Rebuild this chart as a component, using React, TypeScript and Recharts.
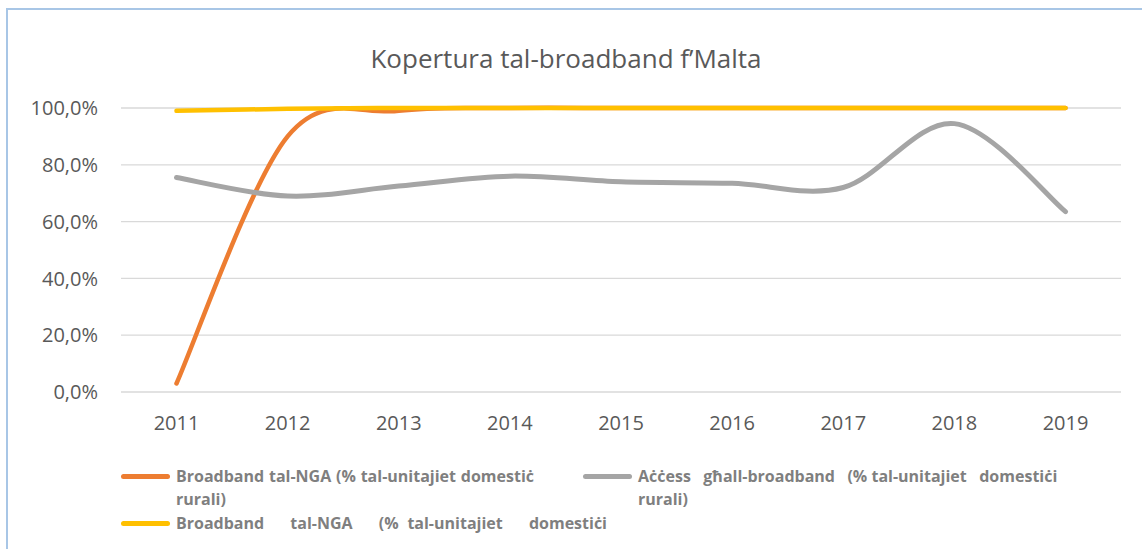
import React from 'react';
import { LineChart, Line, XAxis, YAxis, CartesianGrid, Legend } from 'recharts';

const years = ['2011', '2012', '2013', '2014', '2015', '2016', '2017', '2018', '2019'];
const ngaRural = [0.03, 0.9, 0.99, 1.0, 1.0, 1.0, 1.0, 1.0, 1.0];
const accessRural = [0.755, 0.69, 0.725, 0.76, 0.74, 0.735, 0.72, 0.945, 0.635];
const ngaNational = [0.99, 0.997, 1.0, 1.0, 1.0, 1.0, 1.0, 1.0, 1.0];
const yTicks = [0, 0.2, 0.4, 0.6, 0.8, 1.0];

const seriesKeys = ['a', 'b', 'c'];
const seriesNames = [
  'Broadband tal-NGA (% tal-unitajiet domestiċ rurali)',
  'Aċċess għall-broadband (% tal-unitajiet domestiċi rurali)',
  'Broadband tal-NGA (% tal-unitajiet domestiċi',
];
const seriesColors = ['#ED7D31', '#A5A5A5', '#FFC000'];
const legendLines = [
  ['Broadband tal-NGA (% tal-unitajiet domestiċ', 'rurali)'],
  ['Aċċess   għall-broadband   (% tal-unitajiet   domestiċi', 'rurali)'],
  ['Broadband   tal-NGA   (% tal-unitajiet   domestiċi'],
];

const data = years.map((y, i) => ({
  year: y,
  a: ngaRural[i],
  b: accessRural[i],
  c: ngaNational[i],
}));

// Excel-like smoothed line (uniform Catmull-Rom through the points)
function excelSmooth(context: any) {
  let pts: number[][] = [];
  return {
    areaStart() {},
    areaEnd() {},
    lineStart() {
      pts = [];
    },
    lineEnd() {
      if (!pts.length) return;
      context.moveTo(pts[0][0], pts[0][1]);
      for (let i = 0; i < pts.length - 1; i++) {
        const p0 = pts[i - 1] || pts[i];
        const p1 = pts[i];
        const p2 = pts[i + 1];
        const p3 = pts[i + 2] || pts[i + 1];
        context.bezierCurveTo(
          p1[0] + (p2[0] - p0[0]) / 6,
          p1[1] + (p2[1] - p0[1]) / 6,
          p2[0] - (p3[0] - p1[0]) / 6,
          p2[1] - (p3[1] - p1[1]) / 6,
          p2[0],
          p2[1]
        );
      }
    },
    point(x: number, y: number) {
      pts.push([x, y]);
    },
  };
}

const fmt = (v: number) => (v * 100).toFixed(1).replace('.', ',') + '%';

const legendLayout = [
  { x: 121, y: 0, w: 358 },
  { x: 583, y: 0, w: 416 },
  { x: 121, y: 47, w: 431 },
];

const renderLegend = (props: any) => {
  const payload = props.payload || [];
  return (
    <div style={{ position: 'relative', width: 1142, height: 90 }}>
      {seriesKeys.map((k, i) => {
        const p = payload.find((q: any) => q.dataKey === k) || { color: seriesColors[i] };
        const L = legendLayout[i];
        const lines = legendLines[i];
        return (
          <div key={k} style={{ position: 'absolute', left: L.x, top: L.y }}>
            <div
              style={{
                position: 'absolute',
                left: 0,
                top: 9,
                width: 49,
                height: 5,
                borderRadius: 3,
                background: p.color,
              }}
            />
            {lines.map((t, j) => (
              <div
                key={j}
                style={{
                  position: 'absolute',
                  left: 55,
                  top: j * 23,
                  width: j === 0 ? L.w : 'auto',
                  whiteSpace: 'pre',
                  textAlign: 'justify',
                  textAlignLast: j === 0 ? 'justify' : 'left',
                  fontFamily: '"Open Sans", sans-serif',
                  fontWeight: 700,
                  fontSize: 16,
                  lineHeight: '23px',
                  color: '#7f7f7f',
                } as any}
              >
                {t}
              </div>
            ))}
          </div>
        );
      })}
    </div>
  );
};

export default function App() {
  return (
    <div style={{ position: 'absolute', left: 0, top: 0, width: 1142, height: 549, overflow: 'hidden', background: '#fff' }}>
      <div
        style={{
          position: 'absolute',
          left: 6,
          top: 8,
          width: 1200,
          height: 600,
          borderLeft: '2px solid #a8c6e6',
          borderTop: '2px solid #a8c6e6',
        }}
      />
      <div
        style={{
          position: 'absolute',
          left: 0,
          width: 1132,
          top: 40,
          textAlign: 'center',
          fontFamily: '"Open Sans", sans-serif',
          fontSize: 26,
          color: '#595959',
        }}
      >
        Kopertura tal-broadband f’Malta
      </div>
      <div style={{ position: 'absolute', left: 0, top: 0 }}>
        <LineChart width={1142} height={549} data={data} margin={{ top: 108, right: 21, bottom: 127, left: 0 }}>
          <CartesianGrid vertical={false} stroke="#d9d9d9" strokeWidth={1.3} />
          <XAxis
            dataKey="year"
            height={30}
            padding={{ left: 55.5, right: 55.5 }}
            axisLine={false}
            tickLine={false}
            tickSize={0}
            tickMargin={24}
            tick={{ fill: '#595959', fontSize: 20, fontFamily: '"Open Sans", sans-serif' }}
          />
          <YAxis
            width={121}
            domain={[0, 1]}
            ticks={yTicks}
            tickFormatter={fmt}
            axisLine={false}
            tickLine={false}
            tickSize={0}
            tickMargin={23}
            tick={{ fill: '#595959', fontSize: 20, fontFamily: '"Open Sans", sans-serif' }}
          />
          <Legend
            layout="horizontal"
            verticalAlign="middle"
            align="center"
            wrapperStyle={{ top: 465, left: 0, width: 1142 }}
            content={renderLegend}
          />
          <Line
            dataKey="a"
            name={seriesNames[0]}
            type={excelSmooth as any}
            stroke={seriesColors[0]}
            strokeWidth={4.5}
            strokeLinecap="round"
            dot={false}
            activeDot={false}
            isAnimationActive={false}
          />
          <Line
            dataKey="b"
            name={seriesNames[1]}
            type={excelSmooth as any}
            stroke={seriesColors[1]}
            strokeWidth={5}
            strokeLinecap="round"
            dot={false}
            activeDot={false}
            isAnimationActive={false}
          />
          <Line
            dataKey="c"
            name={seriesNames[2]}
            type={excelSmooth as any}
            stroke={seriesColors[2]}
            strokeWidth={4.5}
            strokeLinecap="round"
            dot={false}
            activeDot={false}
            isAnimationActive={false}
          />
        </LineChart>
      </div>
    </div>
  );
}
